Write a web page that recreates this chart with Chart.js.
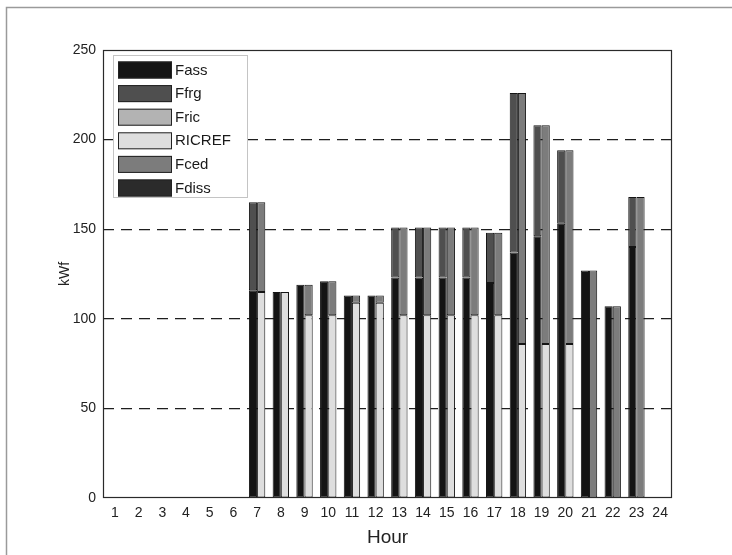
<!DOCTYPE html>
<html>
<head>
<meta charset="utf-8">
<script src="https://cdn.jsdelivr.net/npm/chart.js@4/dist/chart.umd.min.js"></script>
<style>
html,body{margin:0;padding:0;background:#fff;}
canvas{display:block;}
</style>
</head>
<body>
<canvas id="c" width="732" height="555"></canvas>
<script>
const hours = ['1','2','3','4','5','6','7','8','9','10','11','12','13','14','15','16','17','18','19','20','21','22','23','24'];
const fass   = [null,null,null,null,null,null,116,115,119,121,113,113,123,123,123,123,120,137,146,153,127,107,140,null];
const ffrg   = [null,null,null,null,null,null, 49,null,null,null,null,null, 28, 28, 28, 28, 28, 89, 62, 41,null,null, 28,null];
const fric   = [null,null,null,null,null,null,null,null,null,null,null,null,null,null,null,null,null,null,null,null,null,null,null,null];
const ricref = [null,null,null,null,null,null,115,115,102,102,109,109,102,102,102,102,102, 86, 86, 86,null,null,null,null];
const fced   = [null,null,null,null,null,null, 50,null, 17, 19,  4,  4, 49, 49, 49, 49, 46,140,122,108,127,107,168,null];
const fdiss  = [null,null,null,null,null,null,null,null,null,null,null,null,null,null,null,null,null,null,null,null,null,null,null,null];
const yTicks = [0,50,100,150,200,250];

const FONT = '"Liberation Sans", Arial, sans-serif';

const framePlugin = {
  id: 'frame',
  beforeDraw(chart) {
    const ctx = chart.ctx;
    ctx.save();
    ctx.fillStyle = '#fff';
    ctx.fillRect(0, 0, chart.width, chart.height);
    ctx.strokeStyle = '#9a9a9a';
    ctx.lineWidth = 1.5;
    ctx.beginPath();
    ctx.moveTo(6.5, chart.height);
    ctx.lineTo(6.5, 7.5);
    ctx.lineTo(chart.width, 7.5);
    ctx.stroke();
    ctx.restore();
  },
  afterDraw(chart) {
    const ctx = chart.ctx;
    const a = chart.chartArea;
    ctx.save();
    ctx.strokeStyle = '#2a2a2a';
    ctx.lineWidth = 1.2;
    ctx.strokeRect(a.left + 0.5, a.top + 0.5, a.right - a.left - 1, a.bottom - a.top - 1);
    // legend
    const lx = a.left + 10, ly = a.top + 5, lw = 134, lh = 142;
    ctx.fillStyle = '#fff';
    ctx.fillRect(lx, ly, lw, lh);
    ctx.strokeStyle = '#c4c4c4';
    ctx.lineWidth = 1;
    ctx.strokeRect(lx + 0.5, ly + 0.5, lw, lh);
    ctx.font = '15px ' + FONT;
    ctx.textBaseline = 'middle';
    ctx.textAlign = 'left';
    chart.data.datasets.forEach((ds, i) => {
      const cy = ly + 14.5 + i * 23.6;
      ctx.fillStyle = ds.backgroundColor;
      ctx.fillRect(lx + 5, cy - 8, 54, 17);
      ctx.strokeStyle = '#222';
      ctx.lineWidth = 1;
      ctx.strokeRect(lx + 5.5, cy - 7.5, 53, 16);
      ctx.fillStyle = '#1a1a1a';
      ctx.fillText(ds.label, lx + 62, cy + 1);
    });
    ctx.restore();
  }
};

function ds(label, data, color, stack) {
  return {
    label, data, backgroundColor: color, borderColor: '#151515', borderWidth: 1,
    stack, barPercentage: 1.0, categoryPercentage: 0.69, borderSkipped: false
  };
}

new Chart(document.getElementById('c'), {
  type: 'bar',
  data: {
    labels: hours,
    datasets: [
      ds('Fass', fass, '#141414', 'a'),
      ds('Ffrg', ffrg, '#4f4f4f', 'a'),
      ds('Fric', fric, '#b3b3b3', 'b'),
      ds('RICREF', ricref, '#dedede', 'b'),
      ds('Fced', fced, '#7c7c7c', 'b'),
      ds('Fdiss', fdiss, '#2b2b2b', 'a')
    ]
  },
  options: {
    responsive: false,
    animation: false,
    devicePixelRatio: 1,
    layout: { padding: { top: 50, right: 60, left: 0, bottom: 0 } },
    plugins: { legend: { display: false }, tooltip: { enabled: false } },
    scales: {
      x: {
        stacked: true,
        grid: { display: false, drawTicks: false },
        border: { display: false },
        ticks: { color: '#222', font: { family: FONT, size: 14 }, padding: 7, maxRotation: 0, autoSkip: false },
        title: { display: true, text: 'Hour', color: '#222', font: { family: FONT, size: 19 }, padding: { top: 2, bottom: 6 } },
        afterFit(s) { s.height = 57; }
      },
      y: {
        stacked: true,
        min: 0, max: 250,
        afterBuildTicks(s) { s.ticks = yTicks.map(v => ({ value: v })); },
        grid: {
          drawTicks: false,
          color: c => (c.tick && (c.tick.value === 0 || c.tick.value === 250)) ? 'rgba(0,0,0,0)' : '#1e1e1e',
          lineWidth: 1.2
        },
        border: { display: false, dash: [11, 7] },
        ticks: { color: '#222', font: { family: FONT, size: 14 }, padding: 7 },
        title: { display: true, text: 'kWf', color: '#222', font: { family: FONT, size: 14 }, padding: { top: 57, bottom: 0 } },
        afterFit(s) { s.width = 103; }
      }
    }
  },
  plugins: [framePlugin]
});
</script>
</body>
</html>
